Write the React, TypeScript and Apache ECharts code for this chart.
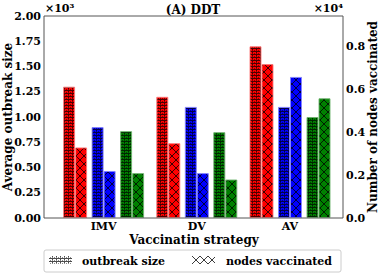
import React, { useEffect, useRef } from "react";
import * as echarts from "echarts";

const categories = ["IMV", "DV", "AV"];
// outbreak size (×10^3) – left axis
const redOutbreak = [1.3, 1.2, 1.7];
const blueOutbreak = [0.9, 1.1, 1.1];
const greenOutbreak = [0.86, 0.85, 1.0];
// nodes vaccinated (×10^4) – right axis
const redVaccinated = [0.33, 0.35, 0.72];
const blueVaccinated = [0.22, 0.21, 0.66];
const greenVaccinated = [0.21, 0.18, 0.56];
const leftTicks = { min: 0, max: 2, interval: 0.25 };
const rightTicks = { min: 0, max: 0.945, interval: 0.2 };

const FONT = "DejaVu Serif";

function dotPattern(bg: string) {
  const c = document.createElement("canvas");
  c.width = 4;
  c.height = 3;
  const g = c.getContext("2d")!;
  g.fillStyle = bg;
  g.fillRect(0, 0, 4, 3);
  g.fillStyle = "rgba(0,0,0,0.7)";
  g.fillRect(0, 0, 4, 1);
  g.fillRect(0, 1, 1, 1);
  g.fillStyle = "rgba(0,0,0,0.45)";
  g.fillRect(2, 2, 1, 1);
  g.fillRect(0, 2, 1, 1);
  return c;
}

function crossPattern(bg: string) {
  const c = document.createElement("canvas");
  c.width = 8;
  c.height = 8;
  const g = c.getContext("2d")!;
  g.fillStyle = bg;
  g.fillRect(0, 0, 8, 8);
  g.strokeStyle = "rgba(0,0,0,0.85)";
  g.lineWidth = 0.9;
  g.beginPath();
  g.moveTo(0, 0);
  g.lineTo(8, 8);
  g.moveTo(8, 0);
  g.lineTo(0, 8);
  g.stroke();
  return c;
}

export default function App() {
  const ref = useRef<HTMLDivElement>(null);
  useEffect(() => {
    if (!ref.current) return;
    const chart = echarts.init(ref.current, null, { renderer: "svg" });
    const mk = (
      name: string,
      data: number[],
      color: string,
      edge: string,
      pattern: "dot" | "cross",
      yIdx: number
    ) => ({
      type: "bar",
      name,
      data,
      yAxisIndex: yIdx,
      barWidth: 12,
      barGap: "0%",
      itemStyle: {
        color: {
          image: pattern === "dot" ? dotPattern(color) : crossPattern(color),
          repeat: "repeat",
        },
        borderColor: edge,
        borderWidth: 1,
      },
    });
    const spacer = {
      type: "bar",
      data: ["-", "-", "-"],
      barWidth: 4.5,
      barGap: "0%",
      yAxisIndex: 0,
      silent: true,
    };
    const lblStyle = { fontFamily: FONT, fontWeight: "bold", fontSize: 11, color: "#000" };
    chart.setOption({
      animation: false,
      grid: { left: 57, right: 45.4, top: 16, bottom: 55 },
      xAxis: {
        type: "category",
        data: categories,
        axisLine: { show: false },
        axisTick: { show: false },
        axisLabel: { ...lblStyle, margin: 3 },
      },
      yAxis: [
        {
          type: "value",
          ...leftTicks,
          offset: 13,
          position: "left",
          splitLine: { show: false },
          axisLine: { show: false },
          axisTick: { show: false },
          axisLabel: { ...lblStyle, margin: 3, formatter: (v: number) => v.toFixed(2) },
        },
        {
          type: "value",
          ...rightTicks,
          offset: 6.4,
          position: "right",
          splitLine: { show: false },
          axisLine: { show: false },
          axisTick: { show: false },
          axisLabel: {
            ...lblStyle,
            margin: 3,
            showMaxLabel: false,
            formatter: (v: number) => v.toFixed(1),
          },
        },
      ],
      series: [
        mk("red outbreak", redOutbreak, "#ff0000", "rgba(255,120,120,0.9)", "dot", 0),
        mk("red vaccinated", redVaccinated, "#ff0000", "rgba(255,120,120,0.9)", "cross", 1),
        spacer,
        mk("blue outbreak", blueOutbreak, "#0000ff", "rgba(130,130,255,0.9)", "dot", 0),
        mk("blue vaccinated", blueVaccinated, "#0000ff", "rgba(130,130,255,0.9)", "cross", 1),
        spacer,
        mk("green outbreak", greenOutbreak, "#008000", "rgba(110,180,110,0.9)", "dot", 0),
        mk("green vaccinated", greenVaccinated, "#008000", "rgba(110,180,110,0.9)", "cross", 1),
      ],
      graphic: [
        {
          type: "rect",
          z: 10,
          silent: true,
          shape: { x: 44, y: 16, width: 299, height: 202 },
          style: { fill: null, stroke: "#555", lineWidth: 1 },
        },
        {
          type: "text",
          x: 193,
          y: 10,
          style: {
            text: "(A) DDT",
            font: `bold 12px "${FONT}"`,
            fill: "#000",
            align: "center",
            verticalAlign: "middle",
          },
        },
        {
          type: "text",
          x: 45,
          y: 8,
          style: { text: "×10³", font: `bold 11px "${FONT}"`, fill: "#000", align: "left", verticalAlign: "middle" },
        },
        {
          type: "text",
          x: 343,
          y: 8,
          style: { text: "×10⁴", font: `bold 11px "${FONT}"`, fill: "#000", align: "right", verticalAlign: "middle" },
        },
        {
          type: "text",
          x: 8,
          y: 117,
          rotation: Math.PI / 2,
          style: {
            text: "Average outbreak size",
            font: `bold 12px "${FONT}"`,
            fill: "#000",
            align: "center",
            verticalAlign: "middle",
          },
        },
        {
          type: "text",
          x: 373,
          y: 117,
          rotation: Math.PI / 2,
          style: {
            text: "Number of nodes vaccinated",
            font: `bold 12px "${FONT}"`,
            fill: "#000",
            align: "center",
            verticalAlign: "middle",
          },
        },
        {
          type: "text",
          x: 194,
          y: 240,
          style: {
            text: "Vaccinatin strategy",
            font: `bold 12px "${FONT}"`,
            fill: "#000",
            align: "center",
            verticalAlign: "middle",
          },
        },
        {
          type: "rect",
          shape: { x: 44, y: 250, width: 297, height: 22, r: 2 },
          style: { fill: "#fff", stroke: "#ccc", lineWidth: 1 },
        },
        {
          type: "rect",
          shape: { x: 49, y: 256, width: 23, height: 8 },
          style: { fill: { image: dotPattern("#ffffff"), repeat: "repeat" } as any, stroke: null },
        },
        {
          type: "text",
          x: 82,
          y: 261,
          style: { text: "outbreak size", font: `bold 11px "${FONT}"`, fill: "#000", align: "left", verticalAlign: "middle" },
        },
        {
          type: "rect",
          shape: { x: 192, y: 256, width: 23, height: 8 },
          style: { fill: { image: crossPattern("#ffffff"), repeat: "repeat" } as any, stroke: null },
        },
        {
          type: "text",
          x: 226,
          y: 261,
          style: { text: "nodes vaccinated", font: `bold 11px "${FONT}"`, fill: "#000", align: "left", verticalAlign: "middle" },
        },
      ],
    });
    return () => chart.dispose();
  }, []);
  return <div ref={ref} style={{ width: 382, height: 273, position: "absolute", left: 0, top: 0 }} />;
}
